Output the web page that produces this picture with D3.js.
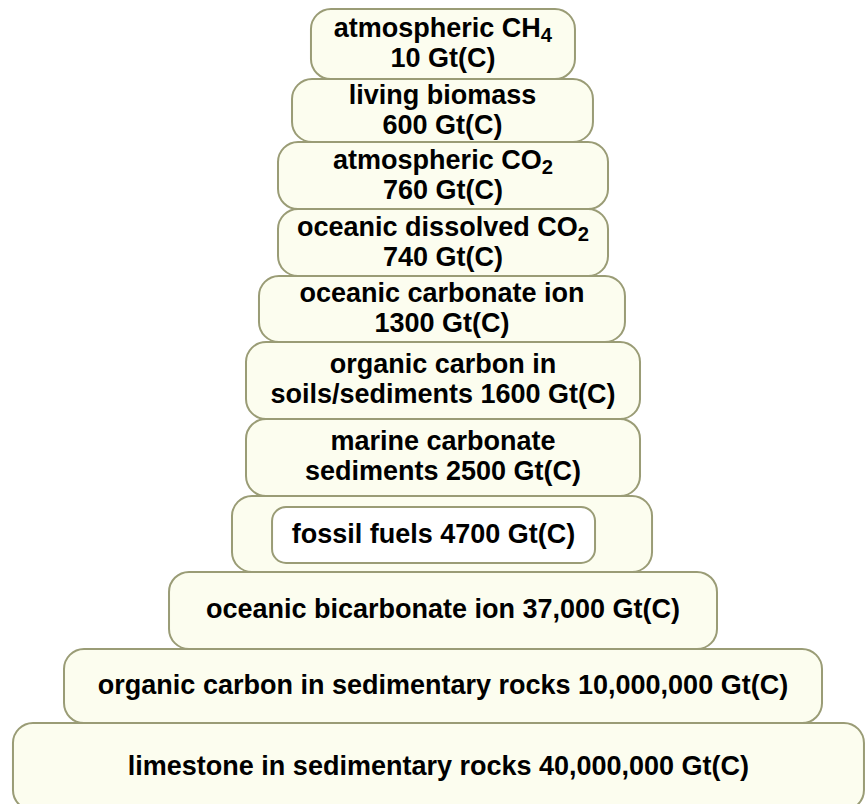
<!DOCTYPE html>
<html>
<head>
<meta charset="utf-8">
<script src="https://cdn.jsdelivr.net/npm/d3@7"></script>
<style>
  body { margin: 0; background: #fff; }
  svg { display: block; }
</style>
</head>
<body>
<svg id="chart" width="865" height="804"></svg>
<script>
// carbon pools, top of the pyramid first ("_" marks a subscript digit, "\n" a line break)
const names = [
  "atmospheric CH_4\n",
  "living biomass\n",
  "atmospheric CO_2\n",
  "oceanic dissolved CO_2\n",
  "oceanic carbonate ion\n",
  "organic carbon in\nsoils/sediments ",
  "marine carbonate\nsediments ",
  "fossil fuels ",
  "oceanic bicarbonate ion ",
  "organic carbon in sedimentary rocks ",
  "limestone in sedimentary rocks "
];
const values = [10, 600, 760, 740, 1300, 1600, 2500, 4700, 37000, 10000000, 40000000];

// box extents, in % of chart width
const spanLeft  = [35.95, 33.76, 32.14, 32.14, 29.94, 28.44, 28.44, 26.82, 19.54, 7.40, 1.50];
const spanRight = [66.47, 68.55, 70.29, 70.29, 72.25, 73.99, 73.99, 75.38, 82.89, 95.03, 99.88];
// tier boundaries, in % of chart height
const tiers = [1.12, 9.83, 17.66, 26.0, 34.33, 42.54, 52.11, 61.69, 71.14, 80.72, 89.93, 100.75];
// fossil fuels sit in their own inner box
const fossil = {row: 7, left: 31.45, right: 68.79, top: 63.06, bottom: 70.02};

const svg = d3.select("#chart");
const width = +svg.attr("width");
const height = +svg.attr("height");

const x = d3.scaleLinear().domain([0, 100]).range([0, width]);
const y = d3.scaleLinear().domain([0, 100]).range([0, height]);

const fmt = v => v >= 10000 ? d3.format(",")(v) : String(v);

const fontSize = 27;
const lineGap = 30;

const data = names.map((n, i) => ({
  lines: (n + fmt(values[i]) + " Gt(C)").split("\n"),
  x0: x(spanLeft[i]),
  x1: x(spanRight[i]),
  y0: y(tiers[i]),
  y1: y(tiers[i + 1])
}));

const g = svg.append("g");

g.selectAll("rect.box")
  .data(data)
  .join("rect")
  .attr("class", "box")
  .attr("x", d => d.x0)
  .attr("y", d => d.y0)
  .attr("width", d => d.x1 - d.x0)
  .attr("height", d => d.y1 - d.y0)
  .attr("rx", 20)
  .attr("fill", "#fcfdef")
  .attr("stroke", "#9a9c76")
  .attr("stroke-width", 2);

// inner white box for fossil fuels
const fx0 = x(fossil.left), fx1 = x(fossil.right);
const fy0 = y(fossil.top), fy1 = y(fossil.bottom);
g.append("rect")
  .attr("x", fx0)
  .attr("y", fy0)
  .attr("width", fx1 - fx0)
  .attr("height", fy1 - fy0)
  .attr("rx", 14)
  .attr("fill", "#fff")
  .attr("stroke", "#9a9c76")
  .attr("stroke-width", 2);

const labels = g.selectAll("text.label")
  .data(data)
  .join("text")
  .attr("class", "label")
  .attr("font-family", "'Liberation Sans', Arial, Helvetica, sans-serif")
  .attr("font-weight", "bold")
  .attr("font-size", fontSize)
  .attr("fill", "#000")
  .attr("text-anchor", "middle");

labels.each(function(d, i) {
  const el = d3.select(this);
  let cx = (d.x0 + d.x1) / 2;
  let cy = (d.y0 + d.y1) / 2;
  if (i === fossil.row) { cx = (fx0 + fx1) / 2; cy = (fy0 + fy1) / 2; }
  const mid = cy + 8;
  d.lines.forEach((line, k) => {
    const base = mid - (d.lines.length - 1) * lineGap / 2 + k * lineGap;
    const t = el.append("tspan").attr("x", cx).attr("y", base);
    // split "CH_4" style subscripts
    line.split(/(_\d)/).forEach(part => {
      if (!part) return;
      if (part[0] === "_") {
        t.append("tspan")
          .attr("font-size", fontSize * 0.75)
          .attr("dy", 5)
          .text(part.slice(1));
        t.append("tspan").attr("dy", -5).text("");
      } else {
        t.append("tspan").text(part);
      }
    });
  });
});
</script>
</body>
</html>
